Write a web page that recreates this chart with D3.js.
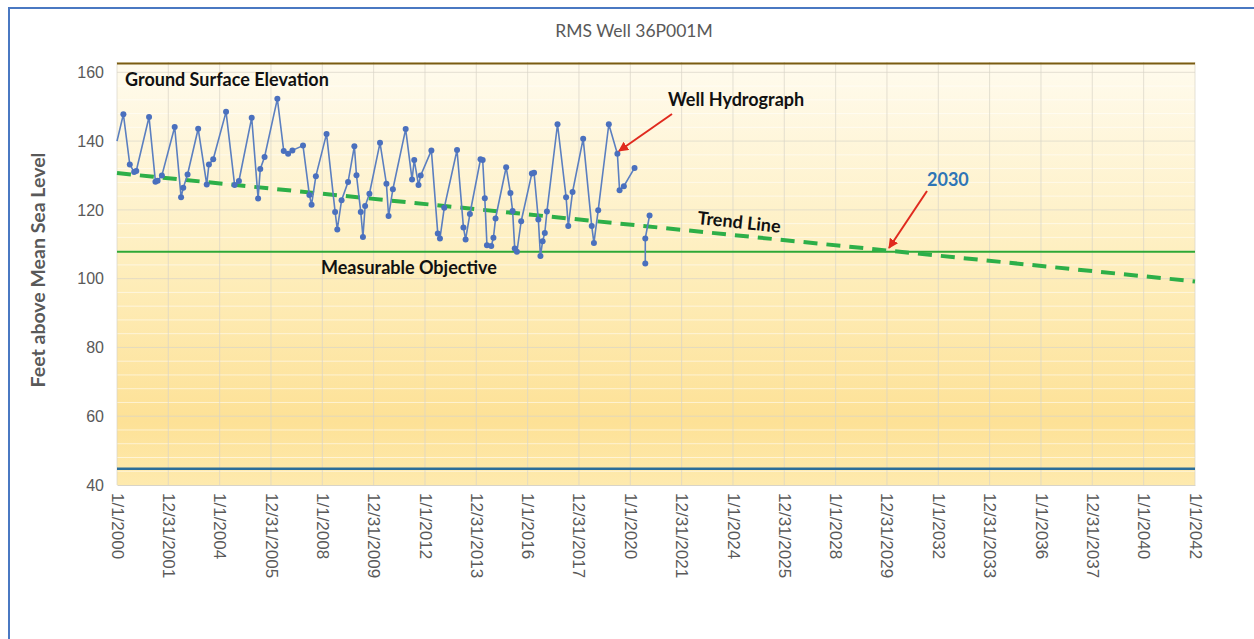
<!DOCTYPE html>
<html>
<head>
<meta charset="utf-8">
<script src="https://cdn.jsdelivr.net/npm/d3@7"></script>
<style>
  body { margin: 0; background: #fff; }
  svg { display: block; }
</style>
</head>
<body>
<div id="chart"></div>
<script>
// hydrograph readings (month, feet above MSL); null = gap in record
var wellDates = ["2000-01","2000-04","2000-07","2000-09","2000-10","2001-04","2001-07","2001-08","2001-10",
  "2002-04","2002-07","2002-08","2002-10","2003-03","2003-07","2003-08","2003-10","2004-04","2004-08","2004-10",
  "2005-04","2005-07","2005-08","2005-10","2006-04","2006-07","2006-09","2006-11","2007-04","2007-07","2007-08",
  "2007-10","2008-03","2008-07","2008-08","2008-10","2009-01","2009-04","2009-05","2009-07","2009-08","2009-09",
  "2009-11","2010-04","2010-07","2010-08","2010-10","2011-04","2011-07","2011-08","2011-10","2011-11","2012-04",
  "2012-07","2012-08","2012-10","2013-04","2013-07","2013-08","2013-10","2014-03","2014-04","2014-05","2014-06",
  "2014-08","2014-09","2014-10","2015-03","2015-05","2015-06","2015-07","2015-08","2015-10","2016-03","2016-04",
  "2016-06","2016-07","2016-08","2016-09","2016-10","2017-03","2017-07","2017-08","2017-10","2018-03","2018-07",
  "2018-08","2018-10","2019-03","2019-07","2019-08","2019-10","2020-03","2020-05","2020-08","2020-08","2020-10"];
var wellLevels = [140.0,147.8,133.2,131.0,131.3,147.0,128.2,128.5,130.0,
  144.1,123.7,126.4,130.3,143.6,127.4,133.2,134.7,148.5,127.2,128.4,
  146.8,123.3,131.9,135.4,152.3,137.1,136.3,137.3,138.7,124.3,121.5,
  129.8,142.1,119.4,114.3,122.8,128.1,138.5,130.1,119.4,112.1,121.1,
  124.7,139.5,127.6,118.2,126.0,143.5,128.8,134.5,127.2,130.0,137.3,
  113.1,111.7,120.6,137.4,114.9,111.4,118.8,134.7,134.5,123.4,109.7,
  109.5,111.9,117.5,132.4,124.9,119.7,108.8,107.8,116.7,130.6,130.8,
  117.2,106.6,110.9,113.3,119.5,144.9,123.7,115.3,125.2,140.7,115.3,
  110.4,119.9,144.9,136.3,125.7,126.9,132.2,null,104.4,111.7,118.4];

var trendDates = ["2000-01", "2042-01"];
var trendLevels = [130.7, 99.2];

var groundSurface = 162.6;
var measurableObjective = 107.8;
var wellBottom = 44.7;

var xTickLabels = ["1/1/2000","12/31/2001","1/1/2004","12/31/2005","1/1/2008","12/31/2009","1/1/2012",
  "12/31/2013","1/1/2016","12/31/2017","1/1/2020","12/31/2021","1/1/2024","12/31/2025","1/1/2028",
  "12/31/2029","1/1/2032","12/31/2033","1/1/2036","12/31/2037","1/1/2040","1/1/2042"];
var yTicks = [40, 60, 80, 100, 120, 140, 160];

var parseMonth = d3.timeParse("%Y-%m");
var parseTick = d3.timeParse("%m/%d/%Y");

var svgWidth = 1254, svgHeight = 639;
var chartMargin = { top: 62, right: 59, bottom: 154, left: 117 };
var width = svgWidth - chartMargin.left - chartMargin.right;
var height = svgHeight - chartMargin.top - chartMargin.bottom;

var svg = d3.select("#chart").append("svg")
  .attr("width", svgWidth)
  .attr("height", svgHeight);

// outer frame
svg.append("rect")
  .attr("x", 9).attr("y", 8)
  .attr("width", 1260).attr("height", 660)
  .attr("fill", "none")
  .attr("stroke", "#4A78C2")
  .attr("stroke-width", 2);

var defs = svg.append("defs");
var grad = defs.append("linearGradient")
  .attr("id", "plotBg")
  .attr("x1", 0).attr("y1", 0).attr("x2", 0).attr("y2", 1);
grad.append("stop").attr("offset", "0%").attr("stop-color", "#FFFBEE");
grad.append("stop").attr("offset", "45%").attr("stop-color", "#FEEFC0");
grad.append("stop").attr("offset", "85%").attr("stop-color", "#FDE196");
grad.append("stop").attr("offset", "100%").attr("stop-color", "#FEEAAE");

var chartGroup = svg.append("g")
  .attr("transform", `translate(${chartMargin.left}, ${chartMargin.top})`);

var xScale = d3.scaleTime()
  .domain([parseMonth("2000-01"), parseMonth("2042-01")])
  .range([0, width]);

var yScale = d3.scaleLinear()
  .domain([40, 163])
  .range([height, 0]);

chartGroup.append("rect")
  .attr("width", width).attr("height", height)
  .attr("fill", "url(#plotBg)");

// minor horizontal grid
chartGroup.append("g")
  .selectAll("line")
  .data(d3.range(44, 163, 4).filter(v => v % 20 !== 0))
  .enter().append("line")
  .attr("x1", 0).attr("x2", width)
  .attr("y1", d => yScale(d)).attr("y2", d => yScale(d))
  .attr("stroke", "#ffffff")
  .attr("stroke-opacity", 0.55)
  .attr("stroke-width", 1);

var tickDates = xTickLabels.map(parseTick);

// vertical grid
chartGroup.append("g")
  .selectAll("line")
  .data(tickDates)
  .enter().append("line")
  .attr("x1", d => xScale(d)).attr("x2", d => xScale(d))
  .attr("y1", 0).attr("y2", height)
  .attr("stroke", "#D8D4C8")
  .attr("stroke-opacity", 0.7)
  .attr("stroke-width", 1);

// major horizontal grid
chartGroup.append("g")
  .selectAll("line")
  .data(yTicks.slice(1))
  .enter().append("line")
  .attr("x1", 0).attr("x2", width)
  .attr("y1", d => yScale(d)).attr("y2", d => yScale(d))
  .attr("stroke", "#D8D4C8")
  .attr("stroke-opacity", 0.7)
  .attr("stroke-width", 1);

// axes
var leftAxis = d3.axisLeft(yScale).tickValues(yTicks).tickSize(0).tickPadding(13);
var yAxis = chartGroup.append("g").call(leftAxis);
yAxis.select(".domain").remove();
yAxis.selectAll("text")
  .attr("fill", "#595959")
  .style("font-family", "'Liberation Sans', Arial, sans-serif")
  .style("font-size", "16px");

var bottomAxis = d3.axisBottom(xScale)
  .tickValues(tickDates)
  .tickFormat((d, i) => xTickLabels[i])
  .tickSize(0);
var xAxis = chartGroup.append("g")
  .attr("transform", `translate(0, ${height})`)
  .call(bottomAxis);
xAxis.select(".domain")
  .attr("stroke", "#D8D4C8");
xAxis.selectAll("text")
  .attr("fill", "#595959")
  .attr("transform", "rotate(90)")
  .attr("text-anchor", "start")
  .attr("x", 8)
  .attr("y", 0)
  .attr("dy", "0.35em")
  .style("font-family", "'Liberation Sans', Arial, sans-serif")
  .style("font-size", "17px");

// reference lines
function hLine(value, color, w) {
  chartGroup.append("line")
    .attr("x1", 0).attr("x2", width)
    .attr("y1", yScale(value)).attr("y2", yScale(value))
    .attr("stroke", color)
    .attr("stroke-width", w);
}
hLine(groundSurface, "#7A5C12", 2);
hLine(measurableObjective, "#2EA836", 2);
hLine(wellBottom, "#2C6E99", 2.5);

// trend line
var trendData = trendDates.map((d, i) => ({ date: parseMonth(d), value: trendLevels[i] }));
chartGroup.append("path")
  .datum(trendData)
  .attr("fill", "none")
  .attr("stroke", "#2DAF48")
  .attr("stroke-width", 4)
  .attr("stroke-dasharray", "14,9")
  .attr("d", d3.line().x(d => xScale(d.date)).y(d => yScale(d.value)));

// hydrograph
var wellData = wellDates.map((d, i) => ({ date: parseMonth(d), value: wellLevels[i] }));
var line = d3.line()
  .defined(d => d.value !== null)
  .x(d => xScale(d.date))
  .y(d => yScale(d.value));

chartGroup.append("path")
  .datum(wellData)
  .attr("fill", "none")
  .attr("stroke", "#5B7FC0")
  .attr("stroke-width", 1.6)
  .attr("d", line);

chartGroup.selectAll(".pt")
  .data(wellData.filter((d, i) => d.value !== null && i > 0))
  .enter().append("circle")
  .attr("class", "pt")
  .attr("cx", d => xScale(d.date))
  .attr("cy", d => yScale(d.value))
  .attr("r", 3)
  .attr("fill", "#4A70BE");

// title and axis title
svg.append("text")
  .attr("x", 634).attr("y", 37)
  .attr("text-anchor", "middle")
  .attr("fill", "#595959")
  .style("font-family", "Lato, 'Open Sans', sans-serif")
  .style("font-size", "17.5px")
  .text("RMS Well 36P001M");

svg.append("text")
  .attr("transform", "translate(45, 270) rotate(-90)")
  .attr("text-anchor", "middle")
  .attr("fill", "#595959")
  .style("font-family", "Lato, 'Open Sans', sans-serif")
  .style("font-weight", "bold")
  .style("font-size", "19.5px")
  .text("Feet above Mean Sea Level");

// annotations
var annFont = "Lato, 'Open Sans', sans-serif";
function note(x, y, txt, color, rot) {
  svg.append("text")
    .attr("transform", `translate(${x}, ${y}) rotate(${rot || 0})`)
    .attr("fill", color || "#111")
    .style("font-family", annFont)
    .style("font-weight", "bold")
    .style("font-size", "18px")
    .text(txt);
}
note(125, 86, "Ground Surface Elevation");
note(668, 106, "Well Hydrograph");
note(321, 274, "Measurable Objective");
note(697, 224, "Trend Line", "#111", 6);
note(927, 186, "2030", "#2E75B6");

defs.append("marker")
  .attr("id", "arrow")
  .attr("viewBox", "0 0 10 10")
  .attr("refX", 9).attr("refY", 5)
  .attr("markerWidth", 5).attr("markerHeight", 5)
  .attr("orient", "auto")
  .append("path")
  .attr("d", "M0,0 L10,5 L0,10 z")
  .attr("fill", "#E02A1E");

function arrow(x1, y1, x2, y2) {
  svg.append("line")
    .attr("x1", x1).attr("y1", y1).attr("x2", x2).attr("y2", y2)
    .attr("stroke", "#E02A1E")
    .attr("stroke-width", 2)
    .attr("marker-end", "url(#arrow)");
}
arrow(672, 114, 619, 151);
arrow(927, 191, 889, 248);
</script>
</body>
</html>
